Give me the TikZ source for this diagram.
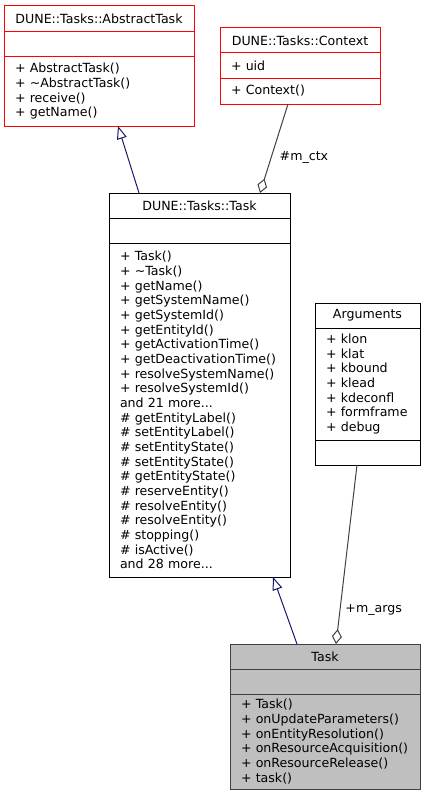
\documentclass[tikz,border=0pt]{standalone}
\usepackage{fontspec}
\setmainfont{DejaVu Sans}
\usetikzlibrary{arrows.meta,positioning}
\definecolor{umlred}{RGB}{255,0,0}
\definecolor{umlgrey}{RGB}{191,191,191}
\definecolor{umlnavy}{RGB}{25,25,112}
\definecolor{umldark}{RGB}{64,64,64}
\newcommand{\umlfont}{\fontsize{12.6pt}{14.67pt}\selectfont}
\tikzset{
  umlbox/.style  ={draw=black, line width=1pt, inner sep=0pt, outer sep=0pt, font=\umlfont},
  umltitle/.style={umlbox, anchor=north west, minimum height=25pt},
  umlempty/.style={umlbox, minimum height=25pt},
  umlops/.style  ={umlbox, inner xsep=11pt, inner ysep=2pt, align=left},
  umlmissing/.style={draw=umlred},
  umlfocus/.style={draw=umldark, fill=umlgrey},
  umlinherit/.style={umlnavy, line width=1pt,
                     -{Triangle[fill=white, length=13pt, width=10pt]}},
  umlagg/.style    ={umldark, line width=1pt,
                     -{Diamond[fill=white, length=15pt, width=10pt]}},
  umllabel/.style  ={anchor=west, inner sep=0pt, text=black, font=\umlfont},
}

\begin{document}
\begin{tikzpicture}[x=1pt, y=-1pt]
  \useasboundingbox (0,0) rectangle (425,800);
  % DUNE::Tasks::AbstractTask
  \node[umltitle, umlmissing, minimum width=190pt, minimum height=26pt] (abstitle) at (4,6) {DUNE::Tasks::AbstractTask};
  \node[umlempty, umlmissing, minimum width=190pt, below=0pt of abstitle] (absattr) {};
  \node[umlops, umlmissing, text width=168pt, minimum height=69pt, below=0pt of absattr] (absops)
    {+ AbstractTask()\\+ \textasciitilde AbstractTask()\\+ receive()\\+ getName()};
  % DUNE::Tasks::Context
  \node[umltitle, umlmissing, minimum width=160pt] (ctxtitle) at (220,28) {DUNE::Tasks::Context};
  \node[umlops, umlmissing, text width=138pt, minimum height=25pt, below=0pt of ctxtitle] (ctxattr) {+ uid};
  \node[umlops, umlmissing, text width=138pt, minimum height=26pt, below=0pt of ctxattr] (ctxops) {+ Context()};
  % DUNE::Tasks::Task
  \node[umltitle, minimum width=181pt] (dtitle) at (109,193) {DUNE::Tasks::Task};
  \node[umlempty, minimum width=181pt, below=0pt of dtitle] (dattr) {};
  \node[umlops, text width=159pt, minimum height=334pt, below=0pt of dattr] (dops)
    {+ Task()\\+ \textasciitilde Task()\\+ getName()\\+ getSystemName()\\+ getSystemId()\\
     + getEntityId()\\+ getActivationTime()\\+ getDeactivationTime()\\+ resolveSystemName()\\
     + resolveSystemId()\\and 21 more...\\\# getEntityLabel()\\\# setEntityLabel()\\
     \# setEntityState()\\\# setEntityState()\\\# getEntityState()\\\# reserveEntity()\\
     \# resolveEntity()\\\# resolveEntity()\\\# stopping()\\\# isActive()\\and 28 more...};
  % Arguments
  \node[umltitle, minimum width=105pt] (argtitle) at (315,303) {Arguments};
  \node[umlops, text width=83pt, minimum height=112pt, below=0pt of argtitle] (argattr)
    {+ klon\\+ klat\\+ kbound\\+ klead\\+ kdeconfl\\+ formframe\\+ debug};
  \node[umlempty, minimum width=105pt, below=0pt of argattr] (argops) {};
  % Task
  \node[umltitle, umlfocus, minimum width=190pt] (tasktitle) at (230,644) {Task};
  \node[umlempty, umlfocus, minimum width=190pt, below=0pt of tasktitle] (taskattr) {};
  \node[umlops, umlfocus, text width=168pt, minimum height=95pt, below=0pt of taskattr] (taskops)
    {+ Task()\\+ onUpdateParameters()\\+ onEntityResolution()\\+ onResourceAcquisition()\\
     + onResourceRelease()\\+ task()};

  \draw[umlinherit] ([xshift=30pt]dtitle.north west) -- ([xshift=114pt]absops.south west);
  \draw[umlagg] ([xshift=68pt]ctxops.south west) -- ([xshift=151pt]dtitle.north west)
    node[umllabel, pos=0.6, xshift=8pt] {\#m\_ctx};
  \draw[umlinherit] ([xshift=67pt]tasktitle.north west) -- ([xshift=164pt]dops.south west);
  \draw[umlagg] ([xshift=42pt]argops.south west) -- ([xshift=106pt]tasktitle.north west)
    node[umllabel, pos=0.81, xshift=5pt] {+m\_args};
\end{tikzpicture}
\end{document}
